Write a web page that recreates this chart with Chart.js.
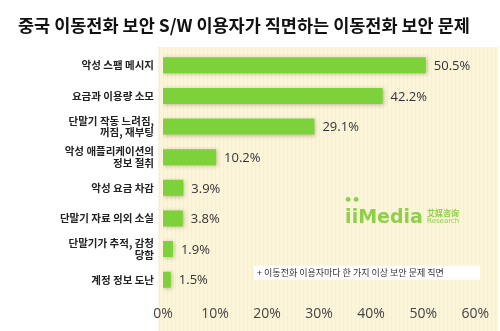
<!DOCTYPE html>
<html>
<head>
<meta charset="utf-8">
<script src="https://cdn.jsdelivr.net/npm/chart.js@4"></script>
<style>
  html, body { margin: 0; padding: 0; background: #fff; }
  #wrap { width: 500px; height: 331px; }
</style>
</head>
<body>
<div id="wrap"><canvas id="chart" width="500" height="331"></canvas></div>
<script>
const titleText = "중국 이동전화 보안 S/W 이용자가 직면하는 이동전화 보안 문제";
const categories = [
  "악성 스팸 메시지",
  "요금과 이용량 소모",
  ["단말기 작동 느려짐,", "꺼짐, 재부팅"],
  ["악성 애플리케이션의", "정보 절취"],
  "악성 요금 차감",
  "단말기 자료 의외 소실",
  ["단말기가 추적, 감청", "당함"],
  "계정 정보 도난"
];
const values = [50.5, 42.2, 29.1, 10.2, 3.9, 3.8, 1.9, 1.5];
const xTicks = [0, 10, 20, 30, 40, 50, 60];
const footnote = "+ 이동전화 이용자마다 한 가지 이상 보안 문제 직면";

const KR = "'Noto Sans CJK KR', 'Noto Sans', sans-serif";

// cream panel behind the plot, title, footnote box and logo
const decor = {
  id: "decor",
  beforeDraw(chart) {
    const { ctx, chartArea } = chart;
    ctx.save();
    ctx.fillStyle = "#fdf5da";
    ctx.fillRect(chartArea.left - 5, chartArea.top - 3, chart.width - chartArea.left + 3, chart.height - chartArea.top + 3);
    // faint vertical stripes
    ctx.strokeStyle = "rgba(240,225,180,0.35)";
    ctx.lineWidth = 1;
    for (let x = chartArea.left - 4; x < chart.width - 2; x += 4) {
      ctx.beginPath();
      ctx.moveTo(x + 0.5, chartArea.top - 3);
      ctx.lineTo(x + 0.5, chart.height);
      ctx.stroke();
    }
    ctx.fillStyle = "#111";
    ctx.font = "bold 17.5px " + KR;
    ctx.textBaseline = "middle";
    ctx.textAlign = "left";
    ctx.fillText(titleText, 18, 25);
    ctx.restore();
  },
  afterDraw(chart) {
    const { ctx, scales } = chart;
    ctx.save();
    // footnote
    const fx = scales.x.getPixelForValue(17.5);
    const fy = scales.y.getPixelForValue(7) - 14;
    ctx.fillStyle = "#ffffff";
    ctx.fillRect(fx, fy, chart.width - 20 - fx, 14);
    ctx.fillStyle = "#333";
    ctx.font = "9px " + KR;
    ctx.textBaseline = "middle";
    ctx.fillText(footnote, fx + 3, fy + 7);
    // logo
    const lx = scales.x.getPixelForValue(35);
    const ly = scales.y.getPixelForValue(5);
    ctx.fillStyle = "#8fcf4a";
    ctx.beginPath(); ctx.arc(lx + 3, ly - 19, 2.4, 0, Math.PI * 2); ctx.fill();
    ctx.beginPath(); ctx.arc(lx + 11, ly - 19, 2.4, 0, Math.PI * 2); ctx.fill();
    ctx.font = "bold 19px 'DejaVu Sans', sans-serif";
    ctx.textBaseline = "alphabetic";
    ctx.fillText("iiMedia", lx, ly + 5);
    ctx.font = "bold 8px 'Noto Sans CJK SC', sans-serif";
    ctx.fillText("艾媒咨询", lx + 82, ly - 2);
    ctx.font = "7px 'DejaVu Sans', sans-serif";
    ctx.fillText("Research", lx + 82, ly + 5);
    ctx.restore();
  }
};

// percent labels to the right of each bar
const valueLabels = {
  id: "valueLabels",
  afterDatasetsDraw(chart) {
    const { ctx } = chart;
    const meta = chart.getDatasetMeta(0);
    ctx.save();
    ctx.fillStyle = "#333";
    ctx.font = "13px 'Open Sans', 'DejaVu Sans', sans-serif";
    ctx.textBaseline = "middle";
    ctx.textAlign = "left";
    meta.data.forEach((bar, i) => {
      ctx.fillText(values[i].toFixed(1) + "%", bar.x + 8, bar.y + 1);
    });
    ctx.restore();
  }
};

const barShadow = {
  id: "barShadow",
  beforeDatasetsDraw(chart) {
    chart.ctx.save();
    chart.ctx.shadowColor = "rgba(120,110,60,0.45)";
    chart.ctx.shadowBlur = 4;
    chart.ctx.shadowOffsetX = 1;
    chart.ctx.shadowOffsetY = 1;
  },
  afterDatasetsDraw(chart) {
    chart.ctx.restore();
  }
};

new Chart(document.getElementById("chart").getContext("2d"), {
  type: "bar",
  data: {
    labels: categories,
    datasets: [{
      data: values,
      backgroundColor: "#7dd13a",
      borderWidth: 0,
      barPercentage: 0.52,
      categoryPercentage: 1
    }]
  },
  options: {
    indexAxis: "y",
    responsive: false,
    animation: false,
    layout: { padding: { top: 50, right: 18, bottom: 6, left: 0 } },
    plugins: {
      legend: { display: false },
      tooltip: { enabled: false }
    },
    scales: {
      x: {
        min: 0,
        max: 60,
        afterBuildTicks(scale) {
          scale.ticks = xTicks.map(v => ({ value: v }));
        },
        afterFit(scale) { scale.height = 30; },
        grid: { display: false, drawTicks: false },
        border: { display: false },
        ticks: {
          padding: 11,
          color: "#444",
          font: { family: "'Open Sans', 'DejaVu Sans', sans-serif", size: 14 },
          callback: v => v + "%"
        }
      },
      y: {
        afterFit(scale) { scale.width = 163; },
        grid: { display: false, drawTicks: false },
        border: { display: false },
        ticks: {
          padding: 9,
          color: "#222",
          font: { family: KR, size: 10.5, weight: "bold", lineHeight: 1.1 }
        }
      }
    }
  },
  plugins: [decor, barShadow, valueLabels]
});
</script>
</body>
</html>
